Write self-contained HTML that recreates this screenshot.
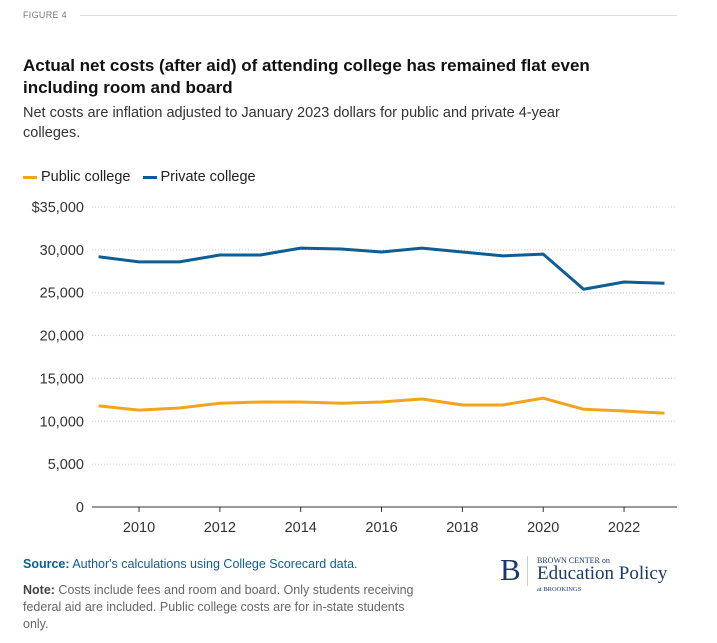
<!DOCTYPE html>
<html><head><meta charset="utf-8"><style>
body{margin:0;width:717px;height:643px;background:#fff;font-family:"Liberation Sans",sans-serif;position:relative;overflow:hidden}
.a{position:absolute}
</style></head><body>
<div class="a" style="left:23px;top:10px;font-size:9px;color:#777;letter-spacing:.3px">FIGURE 4</div>
<div class="a" style="left:80px;top:15px;width:597px;height:1px;background:#ddd"></div>
<div class="a" style="left:23px;top:55px;width:625px;font-size:17px;font-weight:bold;color:#111;line-height:22px">Actual net costs (after aid) of attending college has remained flat even including room and board</div>
<div class="a" style="left:23px;top:103px;width:585px;font-size:14.5px;color:#333;line-height:20px">Net costs are inflation adjusted to January 2023 dollars for public and private 4-year colleges.</div>
<div class="a" style="left:23px;top:169px;font-size:14.5px;color:#222">
<span><span style="display:inline-block;width:14px;height:3px;background:#f5a31e;vertical-align:middle;margin-right:4px"></span>Public college</span>
<span style="margin-left:8px"><span style="display:inline-block;width:14px;height:3px;background:#0d5e94;vertical-align:middle;margin-right:4px"></span>Private college</span></div>
<svg class="a" style="left:0;top:0" width="717" height="643" id="chart"></svg>
<div class="a" style="left:23px;top:557px;font-size:12.5px;color:#0d5e94"><b style="color:#0d5e94">Source:</b> Author's calculations using College Scorecard data.</div>
<div class="a" style="left:23px;top:582px;width:395px;font-size:12.5px;color:#666;line-height:17px"><b style="color:#444">Note:</b> Costs include fees and room and board. Only students receiving federal aid are included. Public college costs are for in-state students only.</div>
<div class="a" style="left:500px;top:554px;font-family:'Liberation Serif',serif;color:#1b3a6b">
<div style="position:absolute;left:0;top:0;font-size:31px;line-height:32px">B</div>
<div style="position:absolute;left:27px;top:2px;width:1px;height:30px;background:#ccd"></div>
<div style="position:absolute;left:37px;top:2px;font-size:8px;white-space:nowrap">BROWN CENTER on</div>
<div style="position:absolute;left:37px;top:9px;font-size:19px;white-space:nowrap">Education Policy</div>
<div style="position:absolute;left:37px;top:32px;font-size:6.5px;white-space:nowrap">at BROOKINGS</div></div>
<script>
const years=[2009,2010,2011,2012,2013,2014,2015,2016,2017,2018,2019,2020,2021,2022,2023];
const publicVals=[11800,11300,11550,12100,12250,12250,12100,12250,12600,11900,11900,12700,11400,11200,10950];
const privateVals=[29200,28600,28600,29400,29400,30200,30100,29750,30200,29750,29300,29500,25400,26250,26100];
const yTicks=[0,5000,10000,15000,20000,25000,30000,35000];
const yLabels=["0","5,000","10,000","15,000","20,000","25,000","30,000","$35,000"];
const xTicks=[2010,2012,2014,2016,2018,2020,2022];
const svg=document.getElementById('chart');const NS='http://www.w3.org/2000/svg';
const x=v=>98.6+(v-2009)*40.42;const y=v=>507-v*300/35000;
function mk(t,a){const e=document.createElementNS(NS,t);for(const k in a)e.setAttribute(k,a[k]);svg.appendChild(e);return e;}
yTicks.forEach((t,i)=>{
 if(t>0){const g=mk('line',{x1:92,x2:677,y1:y(t),y2:y(t),stroke:'#ccc','stroke-dasharray':'1,2'});
 
 }
 const l=mk('text',{x:84,y:y(t)+5,'text-anchor':'end','font-size':'14.5','fill':'#333','font-family':'Liberation Sans'});l.textContent=yLabels[i];
 
 
});
const ax=mk('line',{x1:92,x2:677,y1:507,y2:507,stroke:'#333'});


xTicks.forEach(t=>{
 const tk=mk('line',{x1:x(t),x2:x(t),y1:507,y2:512,stroke:'#333'});
 
 
 const l=mk('text',{x:x(t),y:532,'text-anchor':'middle','font-size':'14.5','fill':'#333','font-family':'Liberation Sans'});l.textContent=t;
 
 
});
[[privateVals,'#0d5e94','private-line'],[publicVals,'#f5a31e','public-line']].forEach(([vals,c,n])=>{
 const p=mk('polyline',{points:vals.map((v,i)=>x(years[i])+','+y(v)).join(' '),fill:'none',stroke:c,'stroke-width':3,'stroke-linejoin':'round'});
 
 
});
</script>
</body></html>
